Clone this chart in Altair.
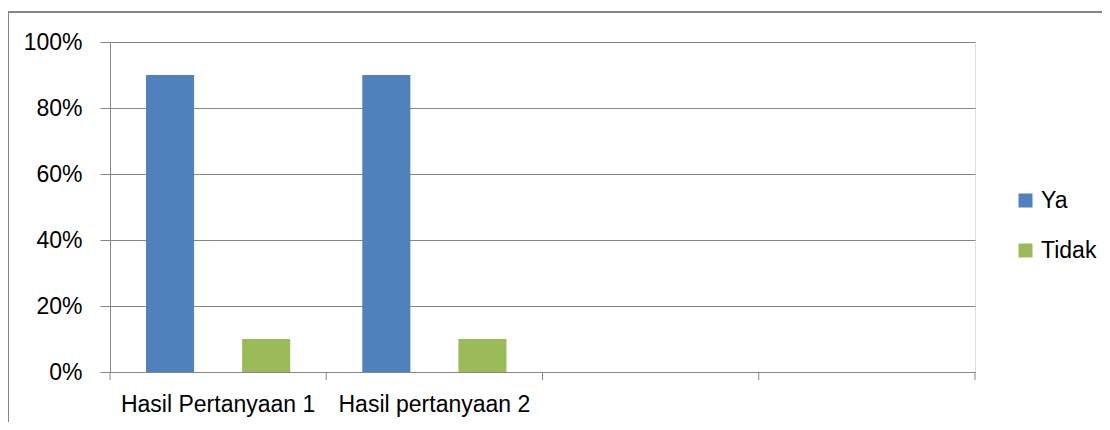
import altair as alt
import pandas as pd

categories = ["Hasil Pertanyaan 1", "Hasil pertanyaan 2", " ", "  "]
series = ["Ya", "Tidak"]
ya_values = [0.9, 0.9, None, None]
tidak_values = [0.1, 0.1, None, None]
y_ticks = [0, 0.2, 0.4, 0.6, 0.8, 1.0]
colors = ["#4F81BD", "#9BBB59"]

rows = []
for c, ya, td in zip(categories, ya_values, tidak_values):
    if ya is not None:
        rows.append({"cat": c, "series": "Ya", "value": ya})
    if td is not None:
        rows.append({"cat": c, "series": "Tidak", "value": td})
df = pd.DataFrame(rows)

W, H = 865, 330
FONT = "Liberation Sans"
FS = 23
GREY = "#868686"

bars = alt.Chart(df).mark_bar().encode(
    x=alt.X("cat:N", sort=categories,
            scale=alt.Scale(domain=categories, paddingInner=0, paddingOuter=0),
            axis=alt.Axis(title=None, labelAngle=0, ticks=False, domain=False,
                          labelFontSize=FS, labelFont=FONT, labelColor="black",
                          labelPadding=21, labelLimit=300)),
    xOffset=alt.XOffset("series:N",
                        scale=alt.Scale(domain=["Ya", "_gap", "Tidak"],
                                        paddingInner=0, paddingOuter=0.75)),
    y=alt.Y("value:Q", scale=alt.Scale(domain=[0, 1]),
            axis=alt.Axis(title=None, format="%", values=y_ticks,
                          grid=True, gridColor=GREY, gridOpacity=1,
                          domainColor=GREY, tickColor=GREY, tickSize=10,
                          labelFontSize=FS, labelFont=FONT, labelColor="black",
                          labelPadding=18)),
    color=alt.Color("series:N", scale=alt.Scale(domain=series, range=colors),
                    legend=alt.Legend(title=None, orient="none", legendX=904, legendY=147,
                                      symbolType="square", symbolSize=196,
                                      symbolStrokeWidth=0,
                                      labelFontSize=FS, labelFont=FONT, labelColor="black",
                                      labelOffset=4, rowPadding=26, padding=0)),
)

tick_df = pd.DataFrame({"pos": [0, 1, 2, 3, 4]})
ticks = alt.Chart(tick_df).mark_rule(color=GREY, strokeWidth=1).encode(
    x=alt.X("pos:Q", scale=alt.Scale(domain=[0, 4], nice=False, zero=False), axis=None),
    y=alt.value(H),
    y2=alt.value(H + 8),
)

border_df = pd.DataFrame({"k": [0]})
left_border = alt.Chart(border_df).mark_rule(color=GREY, strokeWidth=2).encode(
    x=alt.value(-102), y=alt.value(-30), y2=alt.value(H + 60)
)
top_border = alt.Chart(border_df).mark_rule(color=GREY, strokeWidth=2).encode(
    x=alt.value(-102), x2=alt.value(1000), y=alt.value(-30)
)

chart = alt.layer(bars, ticks, left_border, top_border).resolve_scale(
    x="independent"
).properties(
    width=W, height=H,
    autosize=alt.AutoSizeParams(type="none"),
    padding={"left": 102, "top": 34, "right": 127, "bottom": 50},
).configure_view(stroke=None).configure(background="white")

chart.save("out.html", embed_options={"renderer": "svg", "actions": False})
